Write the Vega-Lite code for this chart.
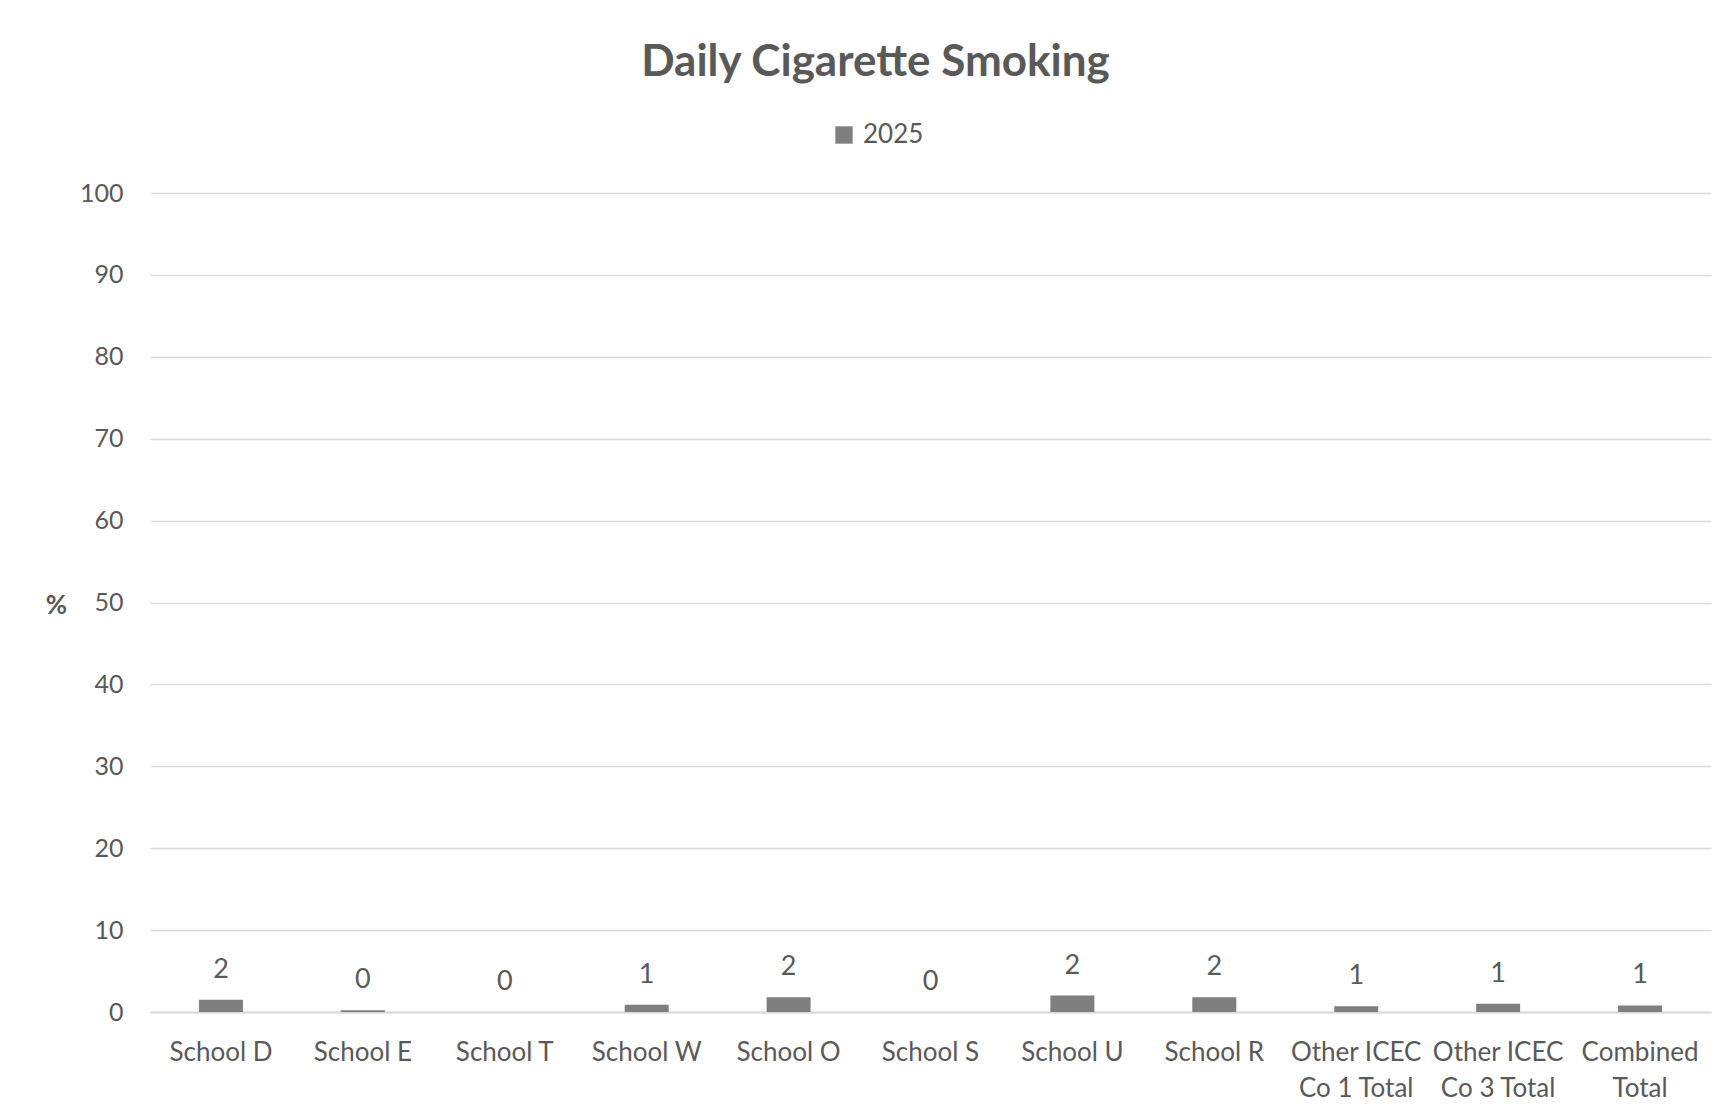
{
  "$schema": "https://vega.github.io/schema/vega-lite/v6.json",
  "width": 1561,
  "height": 819,
  "autosize": {"type": "none"},
  "padding": {"left": 150, "top": 193, "right": 11, "bottom": 106},
  "background": "white",
  "title": {
    "text": "Daily Cigarette Smoking",
    "font": "Lato",
    "fontSize": 44,
    "fontWeight": "bold",
    "color": "#595959",
    "anchor": "middle",
    "dx": -55,
    "offset": 37
  },
  "data": {
    "values": [
      {"school": "School D", "year": "2025", "pct": 1.5},
      {"school": "School E", "year": "2025", "pct": 0.2},
      {"school": "School T", "year": "2025", "pct": 0},
      {"school": "School W", "year": "2025", "pct": 0.9},
      {"school": "School O", "year": "2025", "pct": 1.8},
      {"school": "School S", "year": "2025", "pct": 0},
      {"school": "School U", "year": "2025", "pct": 2.0},
      {"school": "School R", "year": "2025", "pct": 1.8},
      {"school": "Other ICEC Co 1 Total", "year": "2025", "pct": 0.7},
      {"school": "Other ICEC Co 3 Total", "year": "2025", "pct": 1.0},
      {"school": "Combined Total", "year": "2025", "pct": 0.8}
    ]
  },
  "encoding": {
    "x": {
      "field": "school",
      "type": "nominal",
      "sort": null,
      "scale": {"paddingInner": 0.69, "paddingOuter": 0.345},
      "axis": {
        "title": null,
        "labelAngle": 0,
        "labelFont": "Lato",
        "labelFontSize": 26,
        "labelColor": "#595959",
        "labelPadding": 27,
        "labelLineHeight": 36,
        "labelExpr": "datum.value == 'Other ICEC Co 1 Total' ? ['Other ICEC', 'Co 1 Total'] : datum.value == 'Other ICEC Co 3 Total' ? ['Other ICEC', 'Co 3 Total'] : datum.value == 'Combined Total' ? ['Combined', 'Total'] : datum.value",
        "ticks": false,
        "domainColor": "#d9d9d9",
        "domainWidth": 2,
        "grid": false
      }
    },
    "y": {
      "field": "pct",
      "type": "quantitative",
      "scale": {"domain": [0, 100]},
      "axis": {
        "title": "%",
        "titleAngle": 0,
        "titleFont": "Lato",
        "titleFontSize": 26,
        "titleFontWeight": "bold",
        "titleColor": "#595959",
        "titleX": -94,
        "titleY": 425,
        "values": [0, 10, 20, 30, 40, 50, 60, 70, 80, 90, 100],
        "labelFont": "Lato",
        "labelFontSize": 25,
        "labelColor": "#595959",
        "labelPadding": 27,
        "ticks": false,
        "domain": false,
        "gridColor": "#d9d9d9",
        "gridWidth": 1.5
      }
    }
  },
  "layer": [
    {
      "mark": {"type": "bar", "color": "#7f7f7f"},
      "encoding": {
        "color": {
          "field": "year",
          "type": "nominal",
          "scale": {"range": ["#7f7f7f"]},
          "legend": {
            "title": null,
            "orient": "none",
            "legendX": 681,
            "legendY": -71,
            "symbolType": "square",
            "symbolSize": 300,
            "symbolStrokeWidth": 0,
            "labelFont": "Lato",
            "labelFontSize": 26,
            "labelColor": "#595959",
            "labelOffset": 6
          }
        }
      }
    },
    {
      "mark": {"type": "text", "font": "Lato", "fontSize": 27, "color": "#595959", "baseline": "middle", "dy": -30},
      "encoding": {
        "text": {"field": "pct", "type": "quantitative", "format": ".0f"}
      }
    }
  ],
  "config": {
    "view": {"stroke": null}
  }
}
